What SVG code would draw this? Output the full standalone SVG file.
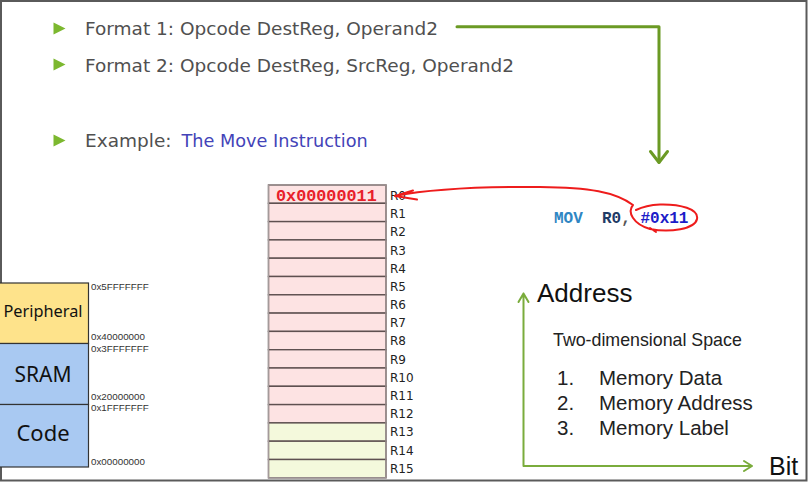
<svg xmlns="http://www.w3.org/2000/svg" width="809" height="483" viewBox="0 0 809 483">
<style>
.bl{font-family:"DejaVu Sans",Verdana,sans-serif;font-size:18.5px;fill:#505050}
.tri{fill:#7cb82f}
.rp{fill:#fde3e3;stroke:#5e5050;stroke-width:1.4}
.rg{fill:#f4f9dc;stroke:#5e5050;stroke-width:1.4}
.rl{font-family:"DejaVu Sans",Verdana,sans-serif;font-size:12px;fill:#222}
.mm{stroke:#333;stroke-width:1.2}
.ml{font-family:"Noto Sans","Liberation Sans",sans-serif;fill:#111;text-anchor:middle}
.ad{font-family:"Liberation Sans",Arial,sans-serif;font-size:9.8px;fill:#333}
.ar{font-family:"Liberation Sans",Arial,sans-serif;fill:#111}
.mono{font-family:"Liberation Mono","Courier New",monospace;font-weight:bold}
</style>
<rect x="0" y="0" width="809" height="483" fill="#fff"/>
<rect x="1" y="1" width="805.5" height="479.5" fill="none" stroke="#5a5a5a" stroke-width="2"/>

<g id="bullets">
<polygon class="tri" points="53.5,22.5 53.5,34.5 65.5,28.5"/>
<text class="bl" x="85" y="35">Format 1: Opcode DestReg, Operand2</text>
<polygon class="tri" points="53.5,58.5 53.5,70.5 65.5,64.5"/>
<text class="bl" x="85" y="71.5">Format 2: Opcode DestReg, SrcReg, Operand2</text>
<polygon class="tri" points="53.5,134.5 53.5,146.5 65.5,140.5"/>
<text class="bl" x="85" y="146.5">Example:</text>
<text class="bl" x="181.5" y="146.5" style="fill:#4343b8;font-size:17.7px">The Move Instruction</text>
</g>

<g id="registers">
<rect class="rp" x="268.5" y="185" width="117.5" height="18.3"/>
<rect class="rp" x="268.5" y="203.3" width="117.5" height="18.3"/>
<rect class="rp" x="268.5" y="221.6" width="117.5" height="18.3"/>
<rect class="rp" x="268.5" y="239.9" width="117.5" height="18.3"/>
<rect class="rp" x="268.5" y="258.2" width="117.5" height="18.3"/>
<rect class="rp" x="268.5" y="276.5" width="117.5" height="18.3"/>
<rect class="rp" x="268.5" y="294.8" width="117.5" height="18.3"/>
<rect class="rp" x="268.5" y="313.1" width="117.5" height="18.3"/>
<rect class="rp" x="268.5" y="331.4" width="117.5" height="18.3"/>
<rect class="rp" x="268.5" y="349.7" width="117.5" height="18.3"/>
<rect class="rp" x="268.5" y="368" width="117.5" height="18.3"/>
<rect class="rp" x="268.5" y="386.3" width="117.5" height="18.3"/>
<rect class="rp" x="268.5" y="404.6" width="117.5" height="18.3"/>
<rect class="rg" x="268.5" y="422.9" width="117.5" height="18.3"/>
<rect class="rg" x="268.5" y="441.2" width="117.5" height="18.3"/>
<rect class="rg" x="268.5" y="459.5" width="117.5" height="18.3"/>
<rect x="268.5" y="185" width="117.5" height="292.8" fill="none" stroke="#a49a9a" stroke-width="1.2"/>
<text class="mono" x="276" y="200.5" style="font-size:16.8px;fill:#e8202a">0x00000011</text>
<text class="rl" x="390" y="200">R0</text>
<text class="rl" x="390" y="218.2">R1</text>
<text class="rl" x="390" y="236.4">R2</text>
<text class="rl" x="390" y="254.5">R3</text>
<text class="rl" x="390" y="272.7">R4</text>
<text class="rl" x="390" y="290.9">R5</text>
<text class="rl" x="390" y="309.1">R6</text>
<text class="rl" x="390" y="327.3">R7</text>
<text class="rl" x="390" y="345.4">R8</text>
<text class="rl" x="390" y="363.6">R9</text>
<text class="rl" x="390" y="381.8">R10</text>
<text class="rl" x="390" y="400">R11</text>
<text class="rl" x="390" y="418.2">R12</text>
<text class="rl" x="390" y="436.3">R13</text>
<text class="rl" x="390" y="454.5">R14</text>
<text class="rl" x="390" y="472.7">R15</text>
</g>

<g id="memory-map">
<rect class="mm" x="-1" y="283" width="89.5" height="60.5" fill="#fee38b"/>
<rect class="mm" x="-1" y="343.5" width="89.5" height="61" fill="#a9c9f2"/>
<rect class="mm" x="-1" y="404.5" width="89.5" height="62.5" fill="#a9c9f2"/>
<text class="ml" x="43" y="316.5" style="font-size:16.3px">Peripheral</text>
<text class="ml" x="43" y="382" style="font-size:21px">SRAM</text>
<text class="ml" x="43" y="441" style="font-size:22px">Code</text>
<text class="ad" x="91" y="290">0x5FFFFFFF</text>
<text class="ad" x="91" y="340">0x40000000</text>
<text class="ad" x="91" y="352">0x3FFFFFFF</text>
<text class="ad" x="91" y="399.5">0x20000000</text>
<text class="ad" x="91" y="411">0x1FFFFFFF</text>
<text class="ad" x="91" y="465">0x00000000</text>
</g>

<g id="instruction">
<text class="mono" x="554" y="223" style="font-size:16px" xml:space="preserve"><tspan fill="#2f86c3">MOV</tspan>  <tspan fill="#1f3b66">R0</tspan><tspan fill="#555">,</tspan> <tspan fill="#1c1cc8">#0x11</tspan></text>
</g>

<g id="address-space">
<text class="ar" x="537" y="302" style="font-size:26px">Address</text>
<text class="ar" x="553" y="346" style="font-size:17.8px;fill:#222">Two-dimensional Space</text>
<text class="ar" x="557" y="385" style="font-size:20.5px;fill:#222">1.</text>
<text class="ar" x="599" y="385" style="font-size:20.5px;fill:#222">Memory Data</text>
<text class="ar" x="557" y="409.5" style="font-size:20.5px;fill:#222">2.</text>
<text class="ar" x="599" y="409.5" style="font-size:20.5px;fill:#222">Memory Address</text>
<text class="ar" x="557" y="435" style="font-size:20.5px;fill:#222">3.</text>
<text class="ar" x="599" y="435" style="font-size:20.5px;fill:#222">Memory Label</text>
<text class="ar" x="769" y="475" style="font-size:25px">Bit</text>
</g>

<g id="connectors" fill="none" stroke-linecap="round" stroke-linejoin="round">
<path d="M457,26.7 H659 V162" stroke="#6b9a24" stroke-width="3"/>
<path d="M650.5,151.5 L659,162.5 L667.5,151.5" stroke="#6b9a24" stroke-width="3"/>
<path d="M523.5,466 V293.5 M518.5,302 L523.5,293.5 L528.5,302 M523.5,466 H752 M744,461 L752,466 L744,471" stroke="#7aac3c" stroke-width="2"/>
<path d="M395,196 C430,189 480,186.5 540,187 C590,187.5 615,192 633,205 C627,212 633,224 650,229 C670,233 695,229 697,219 C699,209 680,204 660,204.5 C648,205 640,208 636,210 M650,228 L656,232 M395,196 L413,190.5 M395,196 L417,199.5" stroke="#ee1c1c" stroke-width="2"/>
</g>
</svg>
